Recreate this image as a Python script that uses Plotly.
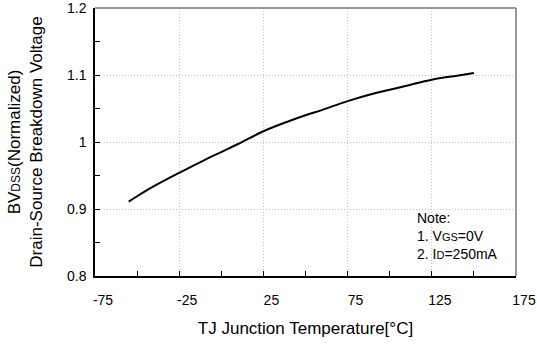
import plotly.graph_objects as go

temps = [-55, -50, -40, -25, -10, 0, 10, 25, 40, 50, 60, 75, 90, 100, 110, 125, 140, 150]
bv = [0.911, 0.919, 0.934, 0.954, 0.973, 0.985, 0.997, 1.016, 1.031, 1.040, 1.048, 1.061, 1.072, 1.078, 1.084, 1.093, 1.099, 1.103]

x_ticks = [-75, -25, 25, 75, 125, 175]
y_ticks = [0.8, 0.9, 1.0, 1.1, 1.2]
y_ticktext = ["0.8", "0.9", "1", "1.1", "1.2"]

font_family = "Liberation Sans, Arial, sans-serif"

fig = go.Figure()
fig.add_trace(go.Scatter(x=temps, y=bv, mode="lines",
                         line=dict(color="black", width=2, shape="spline"),
                         showlegend=False, hoverinfo="skip"))

fig.update_layout(
    width=537, height=358,
    margin=dict(l=95, r=21, t=8, b=82),
    paper_bgcolor="white", plot_bgcolor="white",
    font=dict(family=font_family, size=14, color="black"),
    xaxis=dict(
        range=[-75, 175], tickvals=x_ticks, ticktext=[str(v) for v in x_ticks],
        ticks="inside", ticklen=5, tickcolor="black", automargin=False,
        showline=True, linecolor="black", linewidth=1.5,
        showgrid=True, gridcolor="#c4c4c4", griddash="1px,2px", gridwidth=1,
        zeroline=False, ticklabelstandoff=10, ticklabelshift=8, ticklabeloverflow="allow",
        minor=dict(dtick=25, tick0=-75, ticks="inside", ticklen=5, tickcolor="black", showgrid=False),
        title=dict(text="TJ Junction Temperature[°C]", font=dict(size=17), standoff=16),
    ),
    yaxis=dict(
        range=[0.8, 1.2], tickvals=y_ticks, ticktext=y_ticktext,
        ticks="inside", ticklen=5, tickcolor="black", automargin=False,
        showline=True, linecolor="black", linewidth=1.5,
        showgrid=True, gridcolor="#c4c4c4", griddash="1px,2px", gridwidth=1,
        zeroline=False, ticklabelstandoff=4, ticklabeloverflow="allow",
        minor=dict(dtick=0.05, tick0=0.8, ticks="inside", ticklen=5, tickcolor="black", showgrid=False),
        title=dict(text="BV<span style='font-size:12px'>DSS</span>(Normalized)<br>Drain-Source Breakdown Voltage",
                   font=dict(size=17), standoff=20),
    ),
)

# top and right frame lines
fig.add_shape(type="line", xref="x domain", yref="y domain", x0=0, x1=1, y0=1, y1=1,
              line=dict(color="#777777", width=1.5))
fig.add_shape(type="line", xref="x domain", yref="y domain", x0=1, x1=1, y0=0, y1=1,
              line=dict(color="#777777", width=1.5))

fig.add_annotation(
    xref="x domain", yref="y domain", x=0.76, y=0.255, xanchor="left", yanchor="top",
    align="left", showarrow=False, font=dict(size=14),
    text="Note:<br>1. V<span style='font-size:11px'>GS</span>=0V<br>2. I<span style='font-size:11px'>D</span>=250mA",
)

fig.write_html("out.html", config={"displayModeBar": False},
               post_script="document.body.style.margin='0';document.body.style.overflow='hidden';")
